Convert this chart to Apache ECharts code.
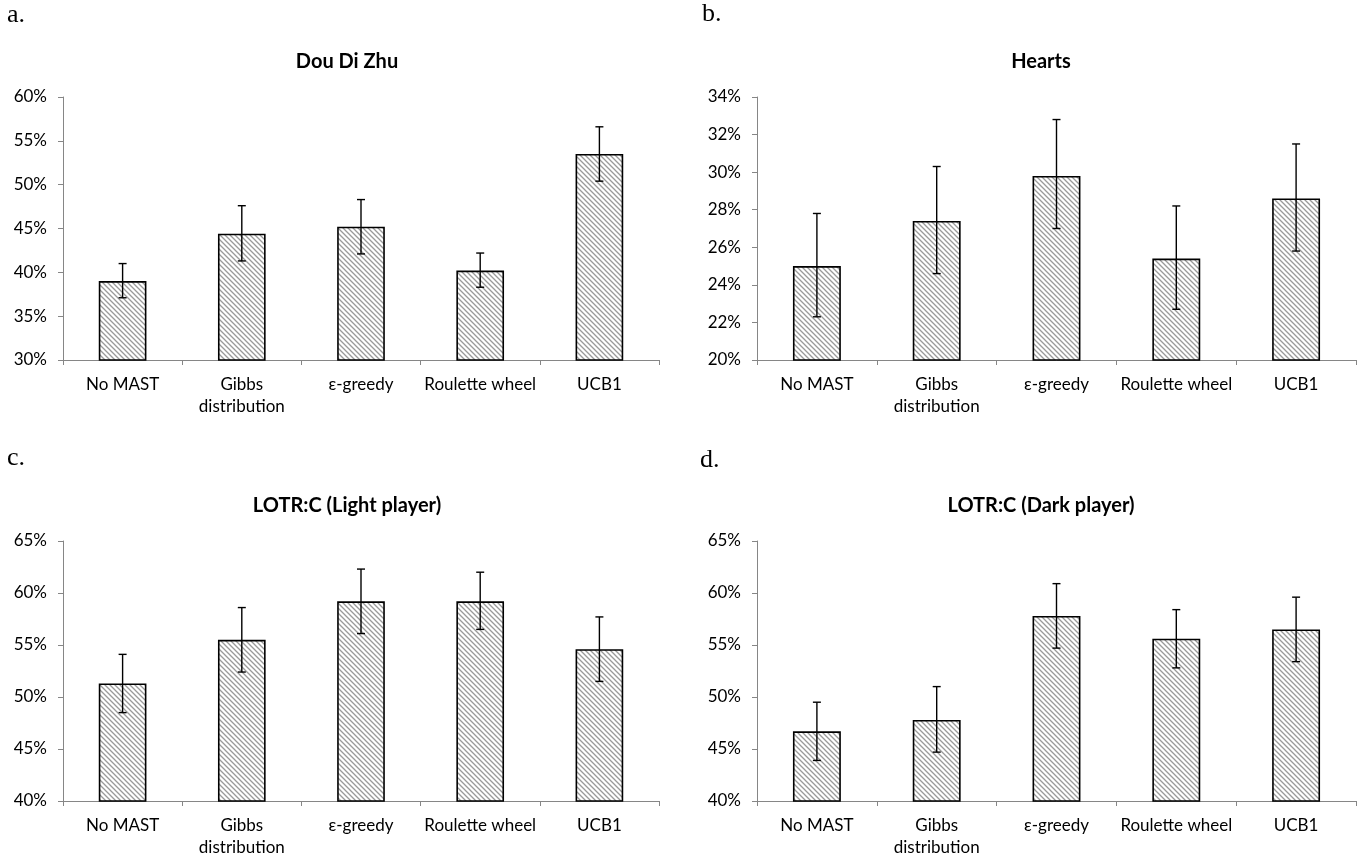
<!DOCTYPE html>
<html><head><meta charset="utf-8">
<script src="https://cdn.jsdelivr.net/npm/echarts@6/dist/echarts.min.js"></script>
<style>html,body{margin:0;padding:0;background:#fff}#c{width:1358px;height:859px}</style>
</head><body><div id="c"></div>
<script>
const categories = ['No MAST', 'Gibbs\ndistribution', 'ε-greedy', 'Roulette wheel', 'UCB1'];

const titles = ['Dou Di Zhu', 'Hearts', 'LOTR:C (Light player)', 'LOTR:C (Dark player)'];
const panelLetters = ['a.', 'b.', 'c.', 'd.'];

const valuesA = [39.0, 44.4, 45.2, 40.2, 53.5];
const lowA    = [37.1, 41.3, 42.1, 38.3, 50.4];
const highA   = [41.0, 47.6, 48.3, 42.2, 56.6];

const valuesB = [25.0, 27.4, 29.8, 25.4, 28.6];
const lowB    = [22.3, 24.6, 27.0, 22.7, 25.8];
const highB   = [27.8, 30.3, 32.8, 28.2, 31.5];

const valuesC = [51.3, 55.5, 59.2, 59.2, 54.6];
const lowC    = [48.5, 52.4, 56.1, 56.5, 51.5];
const highC   = [54.1, 58.6, 62.3, 62.0, 57.7];

const valuesD = [46.7, 47.8, 57.8, 55.6, 56.5];
const lowD    = [43.9, 44.7, 54.7, 52.8, 53.4];
const highD   = [49.5, 51.0, 60.9, 58.4, 59.6];

const yMin = [30, 20, 40, 40];
const yMax = [60, 34, 65, 65];
const yStep = [5, 2, 5, 5];

const panels = [
  {values: valuesA, low: lowA, high: highA},
  {values: valuesB, low: lowB, high: highB},
  {values: valuesC, low: lowC, high: highC},
  {values: valuesD, low: lowD, high: highD}
];

// layout (styles only)
const grids = [
  {left: 63, right: 699, top: 97, bottom: 499},
  {left: 757, right: 2, top: 97, bottom: 499},
  {left: 63, right: 699, top: 541, bottom: 55},
  {left: 757, right: 2, top: 541, bottom: 55}
];
const titlePos = [[342, 47], [1036, 47], [342, 491], [1036, 491]];
const letterPos = [[7, 15], [702, 14], [7, 458], [700, 460]];

function hatch() {
  const s = 5;
  const c = document.createElement('canvas');
  c.width = s; c.height = s;
  const g = c.getContext('2d');
  g.fillStyle = '#ffffff'; g.fillRect(0, 0, s, s);
  g.strokeStyle = '#9a9a9a'; g.lineWidth = 1.3;
  g.beginPath();
  g.moveTo(-1, -1); g.lineTo(s + 1, s + 1);
  g.moveTo(-1, s - 1); g.lineTo(1, s + 1);
  g.moveTo(s - 1, -1); g.lineTo(s + 1, 1);
  g.stroke();
  return c;
}
const pattern = {image: hatch(), repeat: 'repeat'};

const FONT = 'Lato';
const axisGray = '#868686';

const option = {
  animation: false,
  backgroundColor: '#fff',
  title: titles.map((t, i) => ({
    text: t, left: titlePos[i][0], top: titlePos[i][1], textAlign: 'center',
    textStyle: {fontFamily: FONT, fontWeight: 'bold', fontSize: 20, color: '#000'}
  })),
  graphic: panelLetters.map((t, i) => ({
    type: 'text', x: letterPos[i][0], y: letterPos[i][1],
    style: {text: t, font: '26px "Liberation Serif"', fill: '#000', verticalAlign: 'middle'}
  })),
  grid: grids.map(g => Object.assign({containLabel: false}, g)),
  xAxis: grids.map((g, i) => ({
    type: 'category', gridIndex: i, data: categories,
    axisLine: {lineStyle: {color: axisGray, width: 1}},
    axisTick: {show: true, length: 5, lineStyle: {color: axisGray}},
    axisLabel: {fontFamily: FONT, fontSize: 17, color: '#000', margin: 14, lineHeight: 22, interval: 0}
  })),
  yAxis: grids.map((g, i) => ({
    type: 'value', gridIndex: i, min: yMin[i], max: yMax[i], interval: yStep[i],
    axisLine: {show: true, lineStyle: {color: axisGray, width: 1}},
    axisTick: {show: true, length: 5, lineStyle: {color: axisGray}},
    splitLine: {show: false},
    axisLabel: {fontFamily: FONT, fontSize: 17, color: '#000', margin: 16, formatter: '{value}%'}
  })),
  series: []
};

panels.forEach((p, i) => {
  option.series.push({
    type: 'bar', xAxisIndex: i, yAxisIndex: i, data: p.values,
    barWidth: '40%',
    itemStyle: {color: pattern, borderColor: '#000', borderWidth: 1.6},
    z: 2
  });
  option.series.push({
    type: 'custom', xAxisIndex: i, yAxisIndex: i,
    data: p.values.map((v, k) => [k, p.low[k], p.high[k]]),
    encode: {x: 0, y: [1, 2]},
    z: 5,
    renderItem: (params, api) => {
      const x = api.value(0), lo = api.value(1), hi = api.value(2);
      const a = api.coord([x, hi]), b = api.coord([x, lo]);
      const w = 4;
      const st = {stroke: '#000', lineWidth: 1.4};
      return {type: 'group', children: [
        {type: 'line', shape: {x1: a[0], y1: a[1], x2: b[0], y2: b[1]}, style: st},
        {type: 'line', shape: {x1: a[0] - w, y1: a[1], x2: a[0] + w, y2: a[1]}, style: st},
        {type: 'line', shape: {x1: b[0] - w, y1: b[1], x2: b[0] + w, y2: b[1]}, style: st}
      ]};
    }
  });
});

const chart = echarts.init(document.getElementById('c'), null, {renderer: 'canvas'});
chart.setOption(option);
</script>
</body></html>
